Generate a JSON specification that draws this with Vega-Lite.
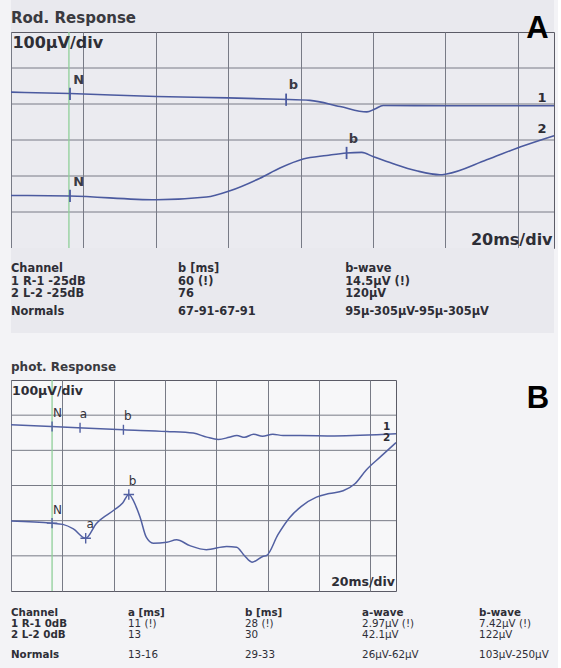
{
  "$schema": "https://vega.github.io/schema/vega-lite/v6.json",
  "background": "#f3f3f6",
  "padding": {"left": 7, "top": 0, "right": 0, "bottom": 0},
  "spacing": 0,
  "bounds": "flush",
  "datasets": {
    "levels": [{"v": 100}, {"v": 200}, {"v": 300}, {"v": 400}, {"v": 500}]
  },
  "config": {
    "view": {"stroke": "#5b5b66", "strokeWidth": 1},
    "axis": {"grid": true, "gridColor": "#787b86", "gridWidth": 1, "gridOpacity": 1, "labels": false, "ticks": false, "domain": false, "title": null},
    "text": {"font": "DejaVu Sans", "baseline": "middle"}
  },
  "vconcat": [
    {
      "width": 543, "height": 32,
      "view": {"stroke": null, "fill": "#e9e9ee"},
      "data": {"values": [{"t": -16, "v": 639, "text": "Rod. Response"}]},
      "mark": {"type": "text", "align": "left", "fontWeight": "bold", "fontSize": 15, "color": "#3a3a40"},
      "encoding": {
        "x": {"field": "t", "type": "quantitative", "scale": {"domain": [-16, 134], "nice": false, "zero": false}, "axis": null},
        "y": {"field": "v", "type": "quantitative", "scale": {"domain": [600, 688.9], "nice": false, "zero": false}, "axis": null},
        "text": {"field": "text"}
      }
    },
    {
      "width": 543, "height": 216,
      "view": {"fill": "#ebebf0", "stroke": "#5b5b66"},
      "layer": [
        {
          "data": {"name": "levels"},
          "mark": {"type": "rule", "color": "#787b86", "strokeWidth": 1},
          "encoding": {
            "y": {"field": "v", "type": "quantitative", "scale": {"domain": [0, 600], "nice": false, "zero": false}, "axis": null}
          }
        },
        {
          "data": {"values": [{"t": 0, "v": 0, "v2": 600}]},
          "mark": {"type": "rule", "color": "#8fcf99", "strokeWidth": 1.3},
          "encoding": {
            "x": {"field": "t", "type": "quantitative", "scale": {"domain": [-16, 134], "nice": false, "zero": false}, "axis": {"values": [-16, 4, 24, 44, 64, 84, 104, 124]}},
            "y": {"field": "v", "type": "quantitative"},
            "y2": {"field": "v2"}
          }
        },
        {
          "data": {"values": [
            {"ch": 1, "t": -16, "v": 433}, {"ch": 1, "t": 0.3, "v": 429}, {"ch": 1, "t": 24.2, "v": 421}, {"ch": 1, "t": 44, "v": 417},
            {"ch": 1, "t": 58.3, "v": 413}, {"ch": 1, "t": 66.6, "v": 410}, {"ch": 1, "t": 74.9, "v": 393}, {"ch": 1, "t": 82.3, "v": 378},
            {"ch": 1, "t": 84.5, "v": 386}, {"ch": 1, "t": 86.8, "v": 396}, {"ch": 1, "t": 104.4, "v": 395}, {"ch": 1, "t": 134, "v": 395},
            {"ch": 2, "t": -16, "v": 146}, {"ch": 2, "t": 0.3, "v": 144.5}, {"ch": 2, "t": 24.2, "v": 134}, {"ch": 2, "t": 38, "v": 141.5},
            {"ch": 2, "t": 44.5, "v": 159}, {"ch": 2, "t": 52.8, "v": 194}, {"ch": 2, "t": 58.3, "v": 222}, {"ch": 2, "t": 64.7, "v": 247},
            {"ch": 2, "t": 71.2, "v": 257}, {"ch": 2, "t": 76.7, "v": 264}, {"ch": 2, "t": 80.9, "v": 265.5}, {"ch": 2, "t": 84, "v": 254},
            {"ch": 2, "t": 89.6, "v": 234}, {"ch": 2, "t": 96, "v": 214.5}, {"ch": 2, "t": 102.5, "v": 203.5}, {"ch": 2, "t": 104.3, "v": 205.5},
            {"ch": 2, "t": 115.4, "v": 245}, {"ch": 2, "t": 124.6, "v": 280.5}, {"ch": 2, "t": 134, "v": 312}
          ]},
          "mark": {"type": "line", "interpolate": "monotone", "color": "#4b5a9f", "strokeWidth": 1.6},
          "encoding": {
            "x": {"field": "t", "type": "quantitative"},
            "y": {"field": "v", "type": "quantitative"},
            "detail": {"field": "ch"}
          }
        },
        {
          "data": {"values": [{"ch": 1, "t": 0.3, "v": 428}, {"ch": 1, "t": 60, "v": 412}, {"ch": 2, "t": 0.3, "v": 144.5}, {"ch": 2, "t": 76.7, "v": 264}]},
          "mark": {"type": "point", "shape": "M0,-1L0,1", "size": 150, "filled": false, "color": "#4b5a9f", "strokeWidth": 1.8, "opacity": 1},
          "encoding": {"x": {"field": "t", "type": "quantitative"}, "y": {"field": "v", "type": "quantitative"}}
        },
        {
          "data": {"values": [{"t": 2.7, "v": 466, "text": "N"}, {"t": 2.7, "v": 182, "text": "N"}, {"t": 62, "v": 452, "text": "b"}, {"t": 78.6, "v": 303, "text": "b"}]},
          "mark": {"type": "text", "align": "center", "fontWeight": "bold", "fontSize": 13, "color": "#3a3a44"},
          "encoding": {"x": {"field": "t", "type": "quantitative"}, "y": {"field": "v", "type": "quantitative"}, "text": {"field": "text"}}
        },
        {
          "data": {"values": [{"t": 130.7, "v": 416, "text": "1"}, {"t": 130.7, "v": 331, "text": "2"}]},
          "mark": {"type": "text", "align": "center", "fontWeight": "bold", "fontSize": 13, "color": "#2e2e36"},
          "encoding": {"x": {"field": "t", "type": "quantitative"}, "y": {"field": "v", "type": "quantitative"}, "text": {"field": "text"}}
        },
        {
          "data": {"values": [{"t": -15.6, "v": 570, "text": "100µV/div"}]},
          "mark": {"type": "text", "align": "left", "fontWeight": "bold", "fontSize": 16, "color": "#2e2e36"},
          "encoding": {"x": {"field": "t", "type": "quantitative"}, "y": {"field": "v", "type": "quantitative"}, "text": {"field": "text"}}
        },
        {
          "data": {"values": [{"t": 133.6, "v": 22, "text": "20ms/div"}]},
          "mark": {"type": "text", "align": "right", "fontWeight": "bold", "fontSize": 16, "color": "#2e2e36"},
          "encoding": {"x": {"field": "t", "type": "quantitative"}, "y": {"field": "v", "type": "quantitative"}, "text": {"field": "text"}}
        },
        {
          "data": {"values": [{"t": 129.4, "v": 609.7, "text": "A"}]},
          "mark": {"type": "text", "align": "center", "font": "Liberation Sans", "fontWeight": "bold", "fontSize": 31, "color": "#000000"},
          "encoding": {"x": {"field": "t", "type": "quantitative"}, "y": {"field": "v", "type": "quantitative"}, "text": {"field": "text"}}
        }
      ]
    },
    {
      "width": 543, "height": 85,
      "view": {"stroke": null, "fill": "#e9e9ee"},
      "data": {"values": [
        {"row": 0, "col": 0, "text": "Channel"}, {"row": 0, "col": 1, "text": "b [ms]"}, {"row": 0, "col": 2, "text": "b-wave"},
        {"row": 1, "col": 0, "text": "1 R-1 -25dB"}, {"row": 1, "col": 1, "text": "60 (!)"}, {"row": 1, "col": 2, "text": "14.5µV (!)"},
        {"row": 2, "col": 0, "text": "2 L-2 -25dB"}, {"row": 2, "col": 1, "text": "76"}, {"row": 2, "col": 2, "text": "120µV"},
        {"row": 3.4, "col": 0, "text": "Normals"}, {"row": 3.4, "col": 1, "text": "67-91-67-91"}, {"row": 3.4, "col": 2, "text": "95µ-305µV-95µ-305µV"}
      ]},
      "mark": {"type": "text", "align": "left", "fontWeight": "bold", "fontSize": 11.4, "color": "#2e2e36"},
      "encoding": {
        "x": {"field": "col", "type": "quantitative", "scale": {"domain": [0, 3.25], "nice": false, "zero": false}, "axis": null},
        "y": {"field": "row", "type": "quantitative", "scale": {"domain": [-1.68, 5.12], "nice": false, "zero": false, "reverse": true}, "axis": null},
        "text": {"field": "text"}
      }
    },
    {
      "width": 385, "height": 46.5,
      "view": {"stroke": null},
      "data": {"values": [{"t": -16, "v": 636.4, "text": "phot. Response"}]},
      "mark": {"type": "text", "align": "left", "fontWeight": "bold", "fontSize": 12, "color": "#3a3a40"},
      "encoding": {
        "x": {"field": "t", "type": "quantitative", "scale": {"domain": [-16, 134], "nice": false, "zero": false}, "axis": null},
        "y": {"field": "v", "type": "quantitative", "scale": {"domain": [600, 732.1], "nice": false, "zero": false}, "axis": null},
        "text": {"field": "text"}
      }
    },
    {
      "width": 385, "height": 211,
      "view": {"fill": "#f7f7f9", "stroke": "#5b5b66"},
      "layer": [
        {
          "data": {"name": "levels"},
          "mark": {"type": "rule", "color": "#787b86", "strokeWidth": 1},
          "encoding": {
            "y": {"field": "v", "type": "quantitative", "scale": {"domain": [0, 600], "nice": false, "zero": false}, "axis": null}
          }
        },
        {
          "data": {"values": [{"t": 0, "v": 0, "v2": 600}]},
          "mark": {"type": "rule", "color": "#8fcf99", "strokeWidth": 1.3},
          "encoding": {
            "x": {"field": "t", "type": "quantitative", "scale": {"domain": [-16, 134], "nice": false, "zero": false}, "axis": {"values": [-16, 4, 24, 44, 64, 84, 104, 124]}},
            "y": {"field": "v", "type": "quantitative"},
            "y2": {"field": "v2"}
          }
        },
        {
          "data": {"values": [
            {"ch": 1, "t": -16, "v": 473}, {"ch": 1, "t": -0.3, "v": 468}, {"ch": 1, "t": 27.8, "v": 458.5}, {"ch": 1, "t": 44.7, "v": 453.5},
            {"ch": 1, "t": 55, "v": 449}, {"ch": 1, "t": 60.3, "v": 437.5}, {"ch": 1, "t": 64.8, "v": 431}, {"ch": 1, "t": 69, "v": 437},
            {"ch": 1, "t": 72, "v": 442}, {"ch": 1, "t": 75, "v": 437}, {"ch": 1, "t": 78.5, "v": 446}, {"ch": 1, "t": 82, "v": 440},
            {"ch": 1, "t": 86, "v": 446}, {"ch": 1, "t": 90, "v": 442}, {"ch": 1, "t": 96.6, "v": 442}, {"ch": 1, "t": 110, "v": 441},
            {"ch": 1, "t": 134, "v": 447},
            {"ch": 2, "t": -16, "v": 199}, {"ch": 2, "t": -0.3, "v": 193}, {"ch": 2, "t": 4.2, "v": 189.5}, {"ch": 2, "t": 8.3, "v": 176.7},
            {"ch": 2, "t": 13.1, "v": 150}, {"ch": 2, "t": 17.2, "v": 191.5}, {"ch": 2, "t": 24.3, "v": 231}, {"ch": 2, "t": 27.5, "v": 250},
            {"ch": 2, "t": 29.9, "v": 274.6}, {"ch": 2, "t": 32.8, "v": 238.6}, {"ch": 2, "t": 34.3, "v": 209.7}, {"ch": 2, "t": 36.7, "v": 153},
            {"ch": 2, "t": 39.4, "v": 135.8}, {"ch": 2, "t": 44.7, "v": 138.6}, {"ch": 2, "t": 48.5, "v": 145.5}, {"ch": 2, "t": 53.7, "v": 129},
            {"ch": 2, "t": 60.1, "v": 117.6}, {"ch": 2, "t": 68, "v": 126.4}, {"ch": 2, "t": 71.9, "v": 124.4}, {"ch": 2, "t": 75, "v": 100},
            {"ch": 2, "t": 77.9, "v": 82}, {"ch": 2, "t": 82.3, "v": 99}, {"ch": 2, "t": 83.6, "v": 101}, {"ch": 2, "t": 88, "v": 160},
            {"ch": 2, "t": 92.6, "v": 209}, {"ch": 2, "t": 97, "v": 240}, {"ch": 2, "t": 103, "v": 267}, {"ch": 2, "t": 108, "v": 277},
            {"ch": 2, "t": 113.4, "v": 285}, {"ch": 2, "t": 118, "v": 305}, {"ch": 2, "t": 122.5, "v": 345}, {"ch": 2, "t": 128, "v": 382},
            {"ch": 2, "t": 134, "v": 422}
          ]},
          "mark": {"type": "line", "interpolate": "monotone", "color": "#5260a2", "strokeWidth": 1.5},
          "encoding": {
            "x": {"field": "t", "type": "quantitative"},
            "y": {"field": "v", "type": "quantitative"},
            "detail": {"field": "ch"}
          }
        },
        {
          "data": {"values": [{"ch": 1, "t": 0, "v": 468}, {"ch": 1, "t": 10.9, "v": 464}, {"ch": 1, "t": 27.8, "v": 458.5}]},
          "mark": {"type": "point", "shape": "M0,-1L0,1", "size": 100, "filled": false, "color": "#5260a2", "strokeWidth": 1.4, "opacity": 1},
          "encoding": {"x": {"field": "t", "type": "quantitative"}, "y": {"field": "v", "type": "quantitative"}}
        },
        {
          "data": {"values": [{"ch": 2, "t": 0, "v": 193}, {"ch": 2, "t": 13.1, "v": 150}, {"ch": 2, "t": 29.9, "v": 274.6}]},
          "mark": {"type": "point", "shape": "M-1,0L1,0M0,-1L0,1", "size": 110, "filled": false, "color": "#5260a2", "strokeWidth": 1.4, "opacity": 1},
          "encoding": {"x": {"field": "t", "type": "quantitative"}, "y": {"field": "v", "type": "quantitative"}}
        },
        {
          "data": {"values": [
            {"t": 2.1, "v": 505, "text": "N"}, {"t": 12.2, "v": 503, "text": "a"}, {"t": 29.5, "v": 497, "text": "b"},
            {"t": 2.1, "v": 231, "text": "N"}, {"t": 14.8, "v": 190, "text": "a"}, {"t": 31.4, "v": 312, "text": "b"}
          ]},
          "mark": {"type": "text", "align": "center", "fontSize": 12, "color": "#33333b"},
          "encoding": {"x": {"field": "t", "type": "quantitative"}, "y": {"field": "v", "type": "quantitative"}, "text": {"field": "text"}}
        },
        {
          "data": {"values": [{"t": 130.4, "v": 466, "text": "1"}, {"t": 130.4, "v": 434, "text": "2"}]},
          "mark": {"type": "text", "align": "center", "fontWeight": "bold", "fontSize": 10.5, "color": "#2e2e36"},
          "encoding": {"x": {"field": "t", "type": "quantitative"}, "y": {"field": "v", "type": "quantitative"}, "text": {"field": "text"}}
        },
        {
          "data": {"values": [{"t": -15.6, "v": 567.6, "text": "100µV/div"}]},
          "mark": {"type": "text", "align": "left", "fontWeight": "bold", "fontSize": 12.5, "color": "#2e2e36"},
          "encoding": {"x": {"field": "t", "type": "quantitative"}, "y": {"field": "v", "type": "quantitative"}, "text": {"field": "text"}}
        },
        {
          "data": {"values": [{"t": 133.6, "v": 26, "text": "20ms/div"}]},
          "mark": {"type": "text", "align": "right", "fontWeight": "bold", "fontSize": 12.5, "color": "#2e2e36"},
          "encoding": {"x": {"field": "t", "type": "quantitative"}, "y": {"field": "v", "type": "quantitative"}, "text": {"field": "text"}}
        },
        {
          "data": {"values": [{"t": 189.3, "v": 547, "text": "B"}]},
          "mark": {"type": "text", "align": "center", "font": "Liberation Sans", "fontWeight": "bold", "fontSize": 31, "color": "#000000"},
          "encoding": {"x": {"field": "t", "type": "quantitative"}, "y": {"field": "v", "type": "quantitative"}, "text": {"field": "text"}}
        }
      ]
    },
    {
      "width": 543, "height": 77.5,
      "view": {"stroke": null},
      "data": {"values": [
        {"row": 0, "col": 0, "text": "Channel"}, {"row": 0, "col": 1, "text": "a [ms]"}, {"row": 0, "col": 2, "text": "b [ms]"}, {"row": 0, "col": 3, "text": "a-wave"}, {"row": 0, "col": 4, "text": "b-wave"},
        {"row": 1, "col": 0, "text": "1 R-1 0dB"}, {"row": 1, "col": 1, "text": "11 (!)"}, {"row": 1, "col": 2, "text": "28 (!)"}, {"row": 1, "col": 3, "text": "2.97µV (!)"}, {"row": 1, "col": 4, "text": "7.42µV (!)"},
        {"row": 2, "col": 0, "text": "2 L-2 0dB"}, {"row": 2, "col": 1, "text": "13"}, {"row": 2, "col": 2, "text": "30"}, {"row": 2, "col": 3, "text": "42.1µV"}, {"row": 2, "col": 4, "text": "122µV"},
        {"row": 3.97, "col": 0, "text": "Normals"}, {"row": 3.97, "col": 1, "text": "13-16"}, {"row": 3.97, "col": 2, "text": "29-33"}, {"row": 3.97, "col": 3, "text": "26µV-62µV"}, {"row": 3.97, "col": 4, "text": "103µV-250µV"}
      ]},
      "layer": [
        {
          "transform": [{"filter": "datum.col == 0 || datum.row == 0"}],
          "mark": {"type": "text", "align": "left", "fontWeight": "bold", "fontSize": 10.3, "color": "#2e2e36"},
          "encoding": {
            "x": {"field": "col", "type": "quantitative", "scale": {"domain": [0, 4.64], "nice": false, "zero": false}, "axis": null},
            "y": {"field": "row", "type": "quantitative", "scale": {"domain": [-2.085, 5.192], "nice": false, "zero": false, "reverse": true}, "axis": null},
            "text": {"field": "text"}
          }
        },
        {
          "transform": [{"filter": "datum.col != 0 && datum.row != 0"}],
          "mark": {"type": "text", "align": "left", "fontSize": 10.3, "color": "#2e2e36"},
          "encoding": {
            "x": {"field": "col", "type": "quantitative"},
            "y": {"field": "row", "type": "quantitative"},
            "text": {"field": "text"}
          }
        }
      ]
    }
  ]
}
